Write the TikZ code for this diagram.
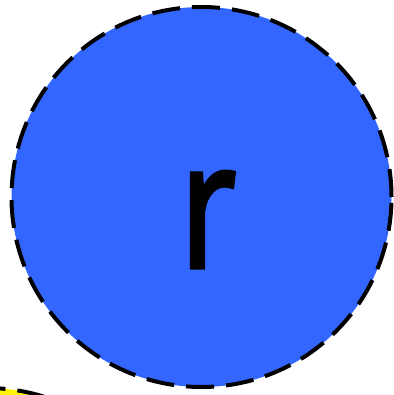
\documentclass[tikz,border=0pt]{standalone}
\usepackage{fontspec}
\setmainfont{Open Sans}
\newfontfamily\letterfont[FakeBold=3]{Open Sans}
\definecolor{ballblue}{HTML}{3366FF}
\tikzset{
  ball/.style={circle, draw=black, line width=4pt, dash pattern=on 28pt off 12pt, minimum size=380pt, inner sep=0pt},
  letter/.style={font=\fontsize{174}{174}\letterfont, inner sep=0pt, text=black, xscale=0.78, transform shape}
}
\begin{document}
\begin{tikzpicture}[x=1pt,y=-1pt]
\useasboundingbox (0,0) rectangle (393,395);
\node[ball, fill=yellow] (y) at (-13,578) {};
\node[ball, fill=ballblue] (b) at (201.5,197) {};
\node[letter, anchor=base] (r) at (208,267) {r};
\end{tikzpicture}
\end{document}
